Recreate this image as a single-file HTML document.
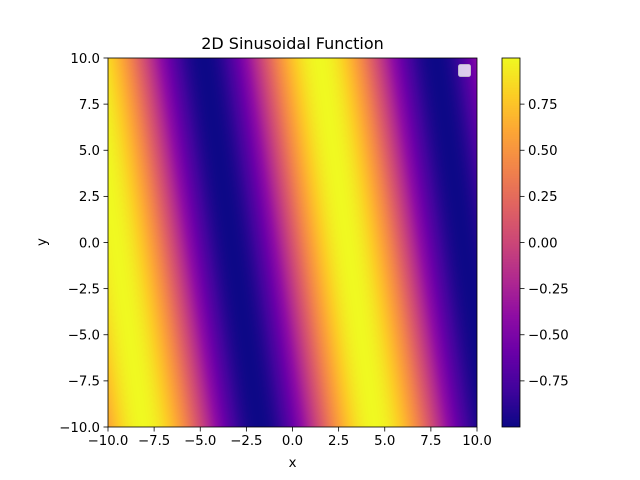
<!DOCTYPE html>
<html><head><meta charset="utf-8"><style>
body{margin:0;background:#fff;width:640px;height:480px;overflow:hidden;font-family:"DejaVu Sans","Liberation Sans",sans-serif}
#wrap{position:relative;width:640px;height:480px}
canvas{position:absolute}
svg{position:absolute;left:0;top:0}
</style></head><body>
<div id="wrap">
<canvas id="hm" width="369" height="369" style="left:108px;top:58px"></canvas>
<canvas id="cb" width="18" height="369" style="left:502px;top:58px"></canvas>
<svg id="ax" width="640" height="480"></svg>
</div>
<script>
// data
const xRange = [-10, 10];
const yRange = [-10, 10];
const xTicks = [-10, -7.5, -5, -2.5, 0, 2.5, 5, 7.5, 10];
const yTicks = [-10, -7.5, -5, -2.5, 0, 2.5, 5, 7.5, 10];
const xTickLabels = ["−10.0","−7.5","−5.0","−2.5","0.0","2.5","5.0","7.5","10.0"];
const yTickLabels = ["−10.0","−7.5","−5.0","−2.5","0.0","2.5","5.0","7.5","10.0"];
const cbTicks = [-0.75, -0.5, -0.25, 0, 0.25, 0.5, 0.75];
const cbTickLabels = ["−0.75","−0.50","−0.25","0.00","0.25","0.50","0.75"];
const waveKx = [0.5];
const waveKy = [0.075];
const wavePhase = [0.1];
const gridN = 100;
const plasmaStops = ["#0d0887","#41049d","#6a00a8","#8f0da4","#b12a90","#cc4778","#e16462","#f2844b","#fca636","#fcce25","#f0f921"];

const L=108,T=58,W=369,H=369;
const sx=v=>L+(v-xRange[0])/(xRange[1]-xRange[0])*W;
const sy=v=>T+H-(v-yRange[0])/(yRange[1]-yRange[0])*H;

const stopsRGB=plasmaStops.map(h=>[parseInt(h.substr(1,2),16),parseInt(h.substr(3,2),16),parseInt(h.substr(5,2),16)]);
function cmap(t){t=Math.max(0,Math.min(1,t));const p=t*10,i=Math.min(9,Math.floor(p)),f=p-i;const a=stopsRGB[i],b=stopsRGB[i+1];return [a[0]+(b[0]-a[0])*f,a[1]+(b[1]-a[1])*f,a[2]+(b[2]-a[2])*f];}

// grid values
const values=[];
for(let j=0;j<gridN;j++){const row=[];const y=yRange[0]+(j+0.5)/gridN*(yRange[1]-yRange[0]);
 for(let i=0;i<gridN;i++){const x=xRange[0]+(i+0.5)/gridN*(xRange[1]-xRange[0]);row.push(Math.sin(waveKx[0]*x+waveKy[0]*y+wavePhase[0]));}
 values.push(row);}
let vmin=Infinity,vmax=-Infinity;values.forEach(r=>r.forEach(v=>{vmin=Math.min(vmin,v);vmax=Math.max(vmax,v);}));

const hm=document.getElementById('hm').getContext('2d');
const img=hm.createImageData(W,H);
for(let py=0;py<H;py++){for(let px=0;px<W;px++){
 const gx=px/W*gridN-0.5, gy=(H-1-py)/H*gridN-0.5;
 const i0=Math.max(0,Math.min(gridN-1,Math.floor(gx))),i1=Math.min(gridN-1,i0+1),fx=Math.max(0,Math.min(1,gx-i0));
 const j0=Math.max(0,Math.min(gridN-1,Math.floor(gy))),j1=Math.min(gridN-1,j0+1),fy=Math.max(0,Math.min(1,gy-j0));
 const v=(values[j0][i0]*(1-fx)+values[j0][i1]*fx)*(1-fy)+(values[j1][i0]*(1-fx)+values[j1][i1]*fx)*fy;
 const c=cmap((v-vmin)/(vmax-vmin));const k=(py*W+px)*4;
 img.data[k]=c[0];img.data[k+1]=c[1];img.data[k+2]=c[2];img.data[k+3]=255;}}
hm.putImageData(img,0,0);

const cb=document.getElementById('cb').getContext('2d');
for(let py=0;py<H;py++){const c=cmap(1-py/(H-1));cb.fillStyle=`rgb(${c[0]|0},${c[1]|0},${c[2]|0})`;cb.fillRect(0,py,18,1);}

const svg=document.getElementById('ax');const NS='http://www.w3.org/2000/svg';
function mk(tag,attrs,text){const e=document.createElementNS(NS,tag);for(const k in attrs)e.setAttribute(k,attrs[k]);if(text!==undefined)e.textContent=text;svg.appendChild(e);return e;}
const FS=13.3;
let e;
e=mk('rect',{x:L,y:T,width:W,height:H,fill:'none',stroke:'#000','stroke-width':0.8});


e=mk('rect',{x:502,y:T,width:18,height:H,fill:'none',stroke:'#000','stroke-width':0.8});


xTicks.forEach((v,i)=>{const x=sx(v);
 e=mk('line',{x1:x,y1:T+H,x2:x,y2:T+H+4.5,stroke:'#000','stroke-width':0.8});
 
 
 e=mk('text',{x:x,y:T+H+18,'text-anchor':'middle','font-size':FS},xTickLabels[i]);
 
 });
yTicks.forEach((v,i)=>{const y=sy(v);
 e=mk('line',{x1:L,y1:y,x2:L-4.5,y2:y,stroke:'#000','stroke-width':0.8});
 
 
 e=mk('text',{x:L-8,y:y+4.8,'text-anchor':'end','font-size':FS},yTickLabels[i]);
 
 });
cbTicks.forEach((v,i)=>{const y=T+H-(v-vmin)/(vmax-vmin)*H;
 e=mk('line',{x1:520,y1:y,x2:524.5,y2:y,stroke:'#000','stroke-width':0.8});
 
 
 e=mk('text',{x:528,y:y+4.8,'font-size':FS},cbTickLabels[i]);
 
 });
e=mk('text',{x:292.5,y:49,'text-anchor':'middle','font-size':16},'2D Sinusoidal Function');


e=mk('text',{x:292.5,y:467,'text-anchor':'middle','font-size':FS},'x');


e=mk('text',{x:46,y:242,'text-anchor':'middle','font-size':FS,transform:'rotate(-90 46 242)'},'y');


e=mk('rect',{x:458.5,y:64.5,width:12,height:12,rx:2,fill:'rgba(255,255,255,0.8)',stroke:'#ccc','stroke-width':0.8});


</script>
</body></html>
